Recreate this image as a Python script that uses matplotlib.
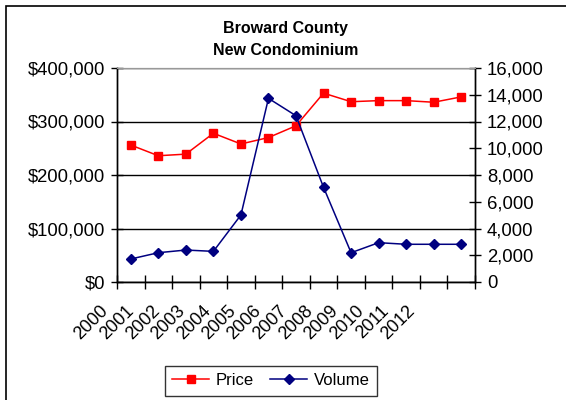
import matplotlib
matplotlib.use("Agg")
import matplotlib.pyplot as plt
import numpy as np
from matplotlib.patches import Rectangle
from matplotlib.ticker import FuncFormatter, MultipleLocator

years = ['2000', '2001', '2002', '2003', '2004', '2005', '2006',
         '2007', '2008', '2009', '2010', '2011', '2012']
price = [256000, 236000, 239000, 278000, 258000, 270000, 292000,
         353000, 337000, 339000, 339000, 336000, 346000]
volume = [1720, 2190, 2390, 2290, 5010, 13730, 12430,
          7080, 2190, 2940, 2820, 2820, 2820]

plt.rcParams['font.family'] = ['Liberation Sans', 'DejaVu Sans']

fig = plt.figure(figsize=(5.66, 4.0), dpi=100)
ax = fig.add_axes([117 / 566, 1 - 282 / 400, 358 / 566, 214 / 400])
ax2 = ax.twinx()

x = np.arange(len(years))
l1, = ax.plot(x, price, color='#FF0000', marker='s', markersize=6,
              lw=1.1, label='Price', zorder=3)
l2, = ax2.plot(x, volume, color='#000080', marker='D', markersize=5.5,
               lw=1.1, label='Volume', zorder=3)

ax.set_xlim(-0.5, len(years) - 0.5)
ax.set_ylim(0, 400000)
ax2.set_ylim(0, 16000)
ax.yaxis.set_major_locator(MultipleLocator(100000))
ax2.yaxis.set_major_locator(MultipleLocator(2000))
ax.yaxis.set_major_formatter(FuncFormatter(lambda v, p: '${:,.0f}'.format(v)))
ax2.yaxis.set_major_formatter(FuncFormatter(lambda v, p: '{:,.0f}'.format(v)))

ax.set_xticks(np.arange(-0.5, len(years), 1))
ax.set_xticklabels([])
ax.grid(axis='y', color='black', lw=1)
ax.set_axisbelow(True)

for a in (ax, ax2):
    a.tick_params(direction='inout', length=9, width=1, labelsize=13.3,
                  colors='black', pad=4)
    a.spines['top'].set_color('#999999')
    for s in ('left', 'right', 'bottom'):
        a.spines[s].set_linewidth(1)
ax.tick_params(axis='x', length=10)

# rotated year labels (Excel squeezes them a bit)
for i, yr in enumerate(years):
    ax.text(-0.014 + i * 25.5 / 358, -0.095, yr, transform=ax.transAxes,
            rotation=45, ha='right', va='top', fontsize=13)

fig.text(0.505, 1 - 39.5 / 400, 'Broward County\nNew Condominium',
         ha='center', va='center', fontsize=11.5, fontweight='bold',
         linespacing=1.55)

leg = fig.legend(handles=[l1, l2], loc='center', ncol=2,
                 bbox_to_anchor=(271 / 566, 1 - 380.5 / 400),
                 fontsize=12, frameon=True, fancybox=False,
                 edgecolor='black', handlelength=2.2, columnspacing=1.0,
                 handletextpad=0.4, borderpad=0.45)
leg.get_frame().set_linewidth(1)

fig.patches.append(Rectangle((6 / 566, -0.2), 1.5, 1 - 6 / 400 + 0.2,
                             transform=fig.transFigure, fill=False,
                             edgecolor='black', lw=1.2))

fig.savefig('out.png', dpi=100)
